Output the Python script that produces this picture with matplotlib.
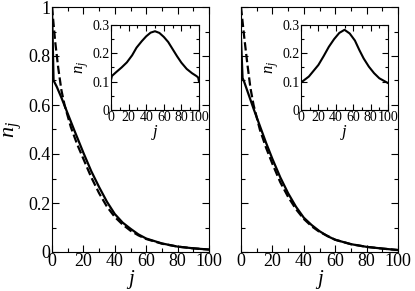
import matplotlib
matplotlib.use("Agg")
import matplotlib.pyplot as plt
from matplotlib.ticker import MultipleLocator, FormatStrFormatter

plt.rcParams['font.family'] = ['Liberation Serif', 'DejaVu Serif']
plt.rcParams['mathtext.fontset'] = 'custom'
plt.rcParams['mathtext.rm'] = 'Liberation Serif'
plt.rcParams['mathtext.it'] = 'Liberation Serif:italic'
plt.rcParams['lines.scale_dashes'] = False

# ---- data ----
left_solid_j = [0, 1, 3, 6, 10, 14, 20, 25, 30, 35, 40, 45, 50, 55, 60, 70, 80, 90, 100]
left_solid_n = [1.0, 0.70, 0.675, 0.63, 0.565, 0.50, 0.405, 0.33, 0.265, 0.205, 0.155, 0.12,
                0.095, 0.072, 0.055, 0.035, 0.022, 0.015, 0.01]
left_dash_j = [0, 2, 4, 6, 8, 12, 16, 20, 25, 30, 35, 40, 45, 50, 55, 60, 70, 80, 90, 100]
left_dash_n = [1.0, 0.86, 0.75, 0.66, 0.60, 0.51, 0.44, 0.38, 0.305, 0.24, 0.185, 0.143, 0.112,
               0.087, 0.068, 0.053, 0.034, 0.022, 0.015, 0.01]

right_solid_j = [0, 1, 2, 5, 8, 12, 16, 20, 25, 30, 35, 40, 45, 50, 55, 60, 70, 80, 90, 100]
right_solid_n = [0.87, 0.71, 0.695, 0.64, 0.585, 0.515, 0.445, 0.38, 0.305, 0.24, 0.185, 0.14,
                 0.11, 0.085, 0.065, 0.05, 0.032, 0.021, 0.014, 0.008]
right_dash_j = [0, 2, 4, 6, 8, 12, 16, 20, 25, 30, 35, 40, 45, 50, 60, 70, 80, 90, 100]
right_dash_n = [1.0, 0.88, 0.77, 0.67, 0.60, 0.50, 0.425, 0.36, 0.285, 0.225, 0.175, 0.135,
                0.105, 0.082, 0.05, 0.032, 0.021, 0.014, 0.008]

inset_left_j = [0, 1, 6, 12, 18, 24, 29, 35, 40, 45, 50, 55, 60, 65, 70, 75, 80, 86, 92, 97, 99, 100]
inset_left_n = [0.105, 0.12, 0.134, 0.15, 0.168, 0.193, 0.22, 0.243, 0.26, 0.273, 0.278, 0.272,
                0.258, 0.24, 0.215, 0.19, 0.167, 0.145, 0.13, 0.12, 0.115, 0.10]
inset_right_j = [0, 9, 20, 26, 32, 38, 44, 50, 56, 62, 67, 72, 78, 84, 90, 100]
inset_right_n = [0.097, 0.118, 0.159, 0.19, 0.223, 0.25, 0.272, 0.283, 0.27, 0.245, 0.212,
                 0.182, 0.153, 0.13, 0.112, 0.095]

main_yticks = [0, 0.2, 0.4, 0.6, 0.8, 1]
main_xticks = [0, 20, 40, 60, 80, 100]
inset_yticks = [0, 0.1, 0.2, 0.3]

W, H = 415, 291
fig = plt.figure(figsize=(W / 100, H / 100), dpi=100)


def rect(x0, y0, x1, y1):
    return [x0 / W, 1 - y1 / H, (x1 - x0) / W, (y1 - y0) / H]


def style(ax, fs, major_len, minor_len, xminor, yminor):
    ax.tick_params(which='both', direction='in', top=True, right=True, labelsize=fs,
                   width=0.8, pad=1)
    ax.tick_params(which='major', length=major_len)
    ax.tick_params(which='minor', length=minor_len)
    ax.xaxis.set_minor_locator(MultipleLocator(xminor))
    ax.yaxis.set_minor_locator(MultipleLocator(yminor))
    for s in ax.spines.values():
        s.set_linewidth(0.8)


axL = fig.add_axes(rect(52, 7, 209, 252))
axR = fig.add_axes(rect(241, 7, 398, 252))
inL = fig.add_axes(rect(111, 25, 199, 110))
inR = fig.add_axes(rect(301, 25, 388, 110))

axL.plot(left_solid_j, left_solid_n, color='black', lw=1.6)
axL.plot(left_dash_j, left_dash_n, color='black', lw=1.6, dashes=(6, 2.5))
axR.plot(right_solid_j, right_solid_n, color='black', lw=1.6)
axR.plot(right_dash_j, right_dash_n, color='black', lw=1.6, dashes=(6, 2.5))

for ax in (axL, axR):
    ax.set_xlim(0, 100)
    ax.set_ylim(0, 1)
    ax.set_xticks(main_xticks)
    ax.set_yticks(main_yticks)
    ax.yaxis.set_major_formatter(FormatStrFormatter('%g'))
    style(ax, 13, 5, 3, 10, 0.1)
    ax.set_xlabel(r'$j$', fontsize=15, labelpad=-2)
axL.set_ylabel(r'$n_j$', fontsize=16, labelpad=3)
axR.set_yticklabels([])

inL.plot(inset_left_j, inset_left_n, color='black', lw=1.5)
inR.plot(inset_right_j, inset_right_n, color='black', lw=1.5)
for ax in (inL, inR):
    ax.set_xlim(0, 100)
    ax.set_ylim(0, 0.3)
    ax.set_xticks(main_xticks)
    ax.set_yticks(inset_yticks)
    ax.yaxis.set_major_formatter(FormatStrFormatter('%g'))
    style(ax, 10, 4, 2, 10, 0.05)
    ax.set_xlabel(r'$j$', fontsize=12, labelpad=-1)
    ax.set_ylabel(r'$n_j$', fontsize=12, labelpad=1)

fig.savefig('out.png', dpi=100)
